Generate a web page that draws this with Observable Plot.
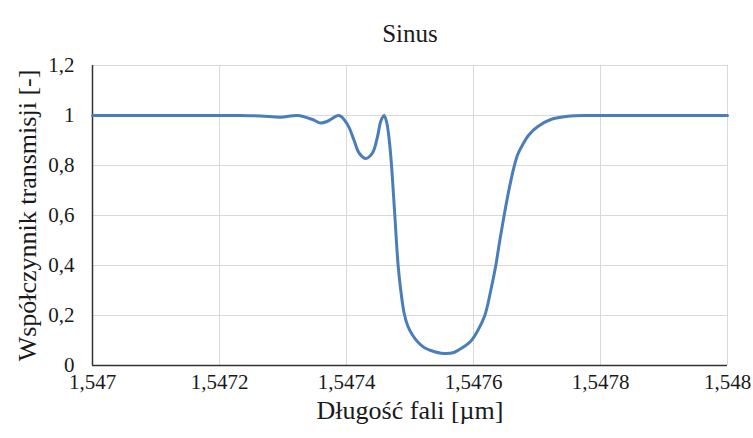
<!DOCTYPE html>
<html>
<head>
<meta charset="utf-8">
<script src="https://cdn.jsdelivr.net/npm/d3@7"></script>
<script src="https://cdn.jsdelivr.net/npm/@observablehq/plot@0.6"></script>
<style>
  html, body { margin: 0; padding: 0; background: #fff; }
</style>
</head>
<body>
<div id="chart"></div>
<script>
const wavelength = [1.547, 1.5470918, 1.5471706, 1.5472335, 1.547265, 1.5472965, 1.5473228, 1.5473465, 1.5473595, 1.5473701, 1.5473883, 1.5474016, 1.547412, 1.5474198, 1.5474304, 1.5474409, 1.5474488, 1.547454, 1.5474592, 1.5474635, 1.5474674, 1.5474709, 1.5474761, 1.5474813, 1.5474855, 1.5474907, 1.5474965, 1.5475039, 1.5475123, 1.5475222, 1.5475328, 1.5475532, 1.547569, 1.5475847, 1.5475957, 1.5476068, 1.5476178, 1.5476272, 1.5476351, 1.5476414, 1.5476482, 1.5476556, 1.5476639, 1.5476698, 1.5476772, 1.5476871, 1.5477008, 1.5477217, 1.5477485, 1.5477847, 1.5478792, 1.548];
const transmission = [1, 1, 1, 1, 0.998, 0.993, 1, 0.984, 0.97, 0.977, 1, 0.964, 0.9, 0.85, 0.828, 0.85, 0.915, 0.977, 1, 0.97, 0.9, 0.8, 0.6, 0.4, 0.3, 0.21, 0.158, 0.122, 0.094, 0.072, 0.06, 0.048, 0.052, 0.075, 0.097, 0.14, 0.2, 0.3, 0.4, 0.5, 0.6, 0.7, 0.795, 0.845, 0.882, 0.922, 0.955, 0.984, 0.997, 1, 1, 1];
const xTicks = [1.547, 1.5472, 1.5474, 1.5476, 1.5478, 1.548];
const yTicks = [0, 0.2, 0.4, 0.6, 0.8, 1, 1.2];
const title = "Sinus";
const xLabel = "Długość fali [µm]";
const yLabel = "Współczynnik transmisji [-]";

const data = wavelength.map((w, i) => ({w, t: transmission[i]}));
const fmt = d => String(d).replace(".", ",");
const serif = "Liberation Serif";

const chart = Plot.plot({
  width: 753, height: 438,
  marginTop: 65, marginBottom: 73, marginLeft: 92, marginRight: 26,
  style: {color: "#1a1a1a", background: "#fff"},
  x: {domain: [1.547, 1.548]},
  y: {domain: [0, 1.2]},
  marks: [
    Plot.gridX(xTicks, {stroke: "#d9d9d9", strokeOpacity: 1, strokeWidth: 1}),
    Plot.gridY(yTicks, {stroke: "#d9d9d9", strokeOpacity: 1, strokeWidth: 1}),
    Plot.axisX(xTicks, {tickSize: 0, tickPadding: 9, fontSize: 21, fontFamily: serif, tickFormat: fmt, label: null}),
    Plot.axisY(yTicks, {tickSize: 0, tickPadding: 18, fontSize: 21, fontFamily: serif, tickFormat: fmt, label: null}),
    Plot.ruleY([0], {stroke: "#333", strokeWidth: 1.5}),
    Plot.ruleX([1.547], {stroke: "#333", strokeWidth: 1.5}),
    Plot.line(data, {x: "w", y: "t", stroke: "#4a7ebb", strokeWidth: 3, curve: "catmull-rom"}),
    Plot.text([title], {frameAnchor: "top", dy: -41, fontSize: 25, fontFamily: serif, fill: "#1a1a1a"}),
    Plot.text([xLabel], {frameAnchor: "bottom", dy: 53, fontSize: 26, fontFamily: serif, fill: "#1a1a1a"}),
    Plot.text([yLabel], {frameAnchor: "left", textAnchor: "middle", dx: -65, rotate: -90, fontSize: 26, fontFamily: serif, fill: "#1a1a1a"})
  ]
});
d3.select(chart).attr("font-family", serif);
document.getElementById("chart").appendChild(chart);
</script>
</body>
</html>
